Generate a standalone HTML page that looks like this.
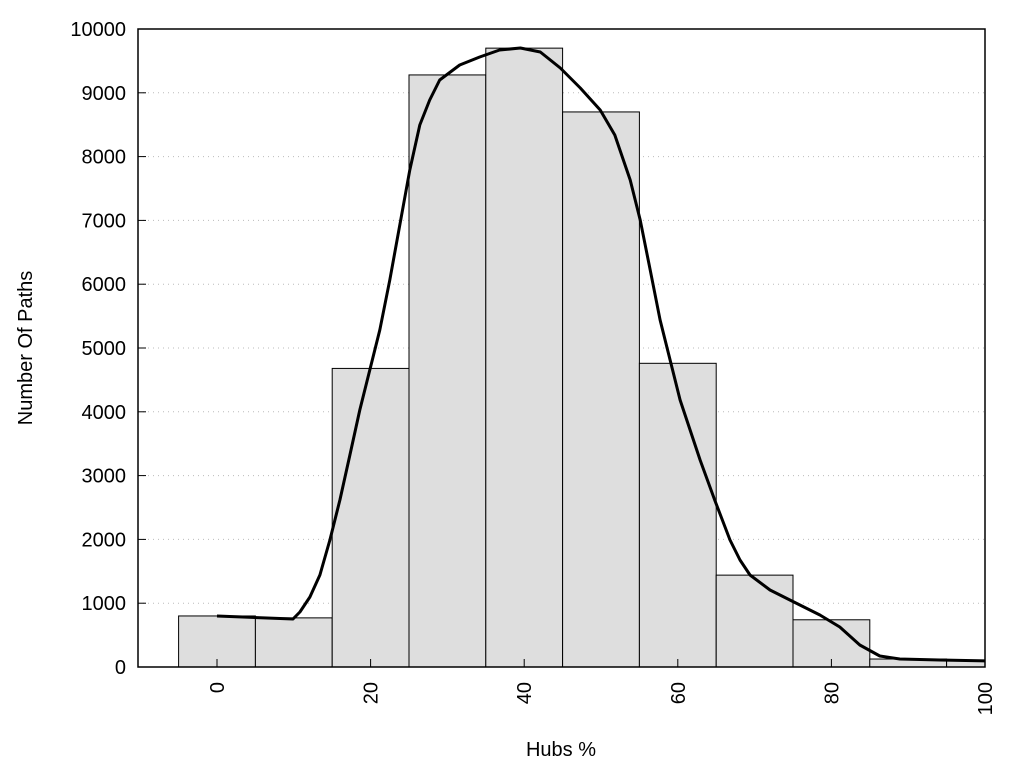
<!DOCTYPE html>
<html><head><meta charset="utf-8"><style>
body{margin:0;background:#fff}
text{font-family:"Liberation Sans",sans-serif;font-size:20px;fill:#000}
</style></head><body>
<svg id="chart" width="1024" height="768" xmlns="http://www.w3.org/2000/svg">
<defs><clipPath id="pc"><rect x="138" y="29" width="847" height="638"/></clipPath></defs>
<g id="grid"></g>
<g id="bars" clip-path="url(#pc)"></g>
<g id="curve" clip-path="url(#pc)"></g>
<rect x="138" y="29" width="847" height="638" fill="none" stroke="#000" stroke-width="1.5"/>
<g id="axes"></g>
<text x="561" y="756" text-anchor="middle">Hubs %</text>
<text transform="translate(32,348) rotate(-90)" text-anchor="middle">Number Of Paths</text>
</svg>
<script>
const binCenters=[0,10,20,30,40,50,60,70,80,90,100];
const binCounts=[800,770,4680,9280,9700,8700,4760,1440,740,125,110];
const curveX=[0,9.9,10.8,12.1,13.4,14.7,16,17.3,18.6,19.9,21.2,22.5,23.8,25.1,26.4,27.7,29,31.6,34.2,36.8,39.5,42.1,44.7,47.3,49.9,51.8,53.8,55.1,56.4,57.7,59,60.3,62.9,64.8,66.8,68.1,69.4,72,74.6,78.5,81.1,83.7,86.3,88.9,94.1,100];
const curveY=[800,752,862,1097,1442,1991,2618,3323,4028,4655,5282,6066,6928,7790,8495,8887,9201,9436,9561,9671,9702,9639,9389,9075,8730,8339,7633,7006,6223,5439,4812,4185,3245,2618,1991,1677,1442,1207,1050,815,627,345,172,125,110,95];
const yTicks=[0,1000,2000,3000,4000,5000,6000,7000,8000,9000,10000];
const xTicks=[0,20,40,60,80,100];
const NS="http://www.w3.org/2000/svg";
const X=v=>217+v*7.68, Y=v=>667-v*0.0638;
function mk(t,a,p){const e=document.createElementNS(NS,t);for(const k in a)e.setAttribute(k,a[k]);p.appendChild(e);return e;}
const grid=document.getElementById('grid'),bars=document.getElementById('bars'),axes=document.getElementById('axes'),curve=document.getElementById('curve');
yTicks.forEach(t=>{
 if(t>0&&t<10000){const g=mk('line',{x1:138,x2:985,y1:Y(t),y2:Y(t),stroke:'#bbb','stroke-width':1,'stroke-dasharray':'1,4'},grid);
 }
 const l=mk('line',{x1:138,x2:146,y1:Y(t),y2:Y(t),stroke:'#000'},axes);
 
 const tx=mk('text',{x:126,y:Y(t)+7,'text-anchor':'end'},axes);tx.textContent=t;
 
});
xTicks.forEach(t=>{
 const l=mk('line',{x1:X(t),x2:X(t),y1:667,y2:659,stroke:'#000'},axes);
 
 const tx=mk('text',{transform:`translate(${X(t)+7},682) rotate(-90)`,'text-anchor':'end'},axes);tx.textContent=t;
 
});
binCenters.forEach((c,i)=>{
 const r=mk('rect',{x:X(c-5),y:Y(binCounts[i]),width:X(c+5)-X(c-5),height:667-Y(binCounts[i]),fill:'#dedede',stroke:'#000','stroke-width':1},bars);
 
});
const p=mk('path',{d:curveX.map((x,i)=>(i?'L':'M')+X(x).toFixed(1)+','+Y(curveY[i]).toFixed(1)).join(''),fill:'none',stroke:'#000','stroke-width':3,'stroke-linejoin':'round'},curve);

</script>
</body></html>
